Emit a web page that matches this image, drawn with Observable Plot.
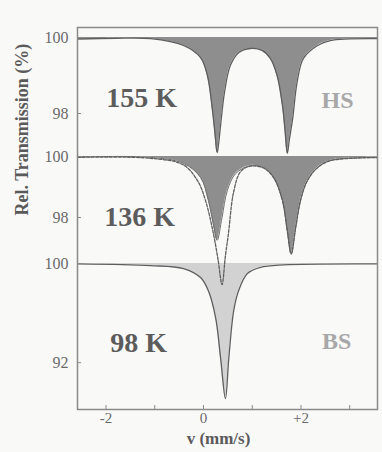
<!DOCTYPE html>
<html><head><meta charset="utf-8">
<script src="https://cdn.jsdelivr.net/npm/d3@7"></script>
<script src="https://cdn.jsdelivr.net/npm/@observablehq/plot@0.6"></script>
<style>
body{margin:0;background:#f9f9f8;}
#chart{width:382px;height:452px;}
</style>
</head><body><div id="chart"></div>
<script>
// Panels (stacked spectra, each with its own transmission scale)
const panelNames = ["155 K", "136 K", "98 K"];
const panelBase = [0, -3.13, -5.95];      // stacking offset of each panel's 100 % line
const panelScale = [1, 0.803, 0.326];     // relative vertical scale of each panel
const panelLabelV = [-1.27, -1.31, -1.33];
const panelLabelT = [98.42, 98.0, 93.6];

const stateNames = ["HS", "BS"];
const statePanel = [0, 2];
const stateV = [2.75, 2.73];
const stateT = [98.34, 93.7];

// 155 K spectrum (HS doublet)
const v155 = [-2.58, -1.8, -1.09, -0.41, -0.06, 0.08, 0.18, 0.23, 0.28, 0.31, 0.35, 0.43, 0.55, 0.72, 0.96, 1.2, 1.37, 1.51, 1.62, 1.67, 1.72, 1.76, 1.83, 1.92, 2.05, 2.34, 2.6, 3.57];
const t155 = [99.96, 99.98, 99.97, 99.79, 99.47, 99.0, 98.13, 97.55, 96.97, 97.2, 97.68, 98.55, 99.26, 99.6, 99.71, 99.66, 99.45, 99.0, 98.21, 97.6, 96.95, 97.3, 97.87, 98.82, 99.45, 99.79, 99.92, 99.97];

// 136 K: HS component (grey) and total spectrum
const vHS136 = [-2.58, -1.09, -0.41, -0.06, 0.1, 0.2, 0.28, 0.38, 0.49, 0.66, 0.96, 1.23, 1.44, 1.62, 1.72, 1.8, 1.89, 1.99, 2.13, 2.34, 2.6, 3.57];
const tHS136 = [99.98, 99.97, 99.77, 99.31, 98.56, 97.8, 97.25, 98.0, 98.89, 99.44, 99.7, 99.64, 99.31, 98.56, 97.57, 96.82, 97.67, 98.56, 99.21, 99.64, 99.87, 99.97];
const vTot136 = [-2.58, -1.09, -0.41, -0.12, 0.04, 0.2, 0.3, 0.38, 0.45, 0.51, 0.62, 0.76, 0.96, 1.23, 1.44, 1.62, 1.72, 1.8, 1.89, 1.99, 2.13, 2.34, 2.6, 3.57];
const tTot136 = [99.97, 99.94, 99.72, 99.2, 98.56, 97.5, 96.6, 95.8, 96.75, 97.45, 98.85, 99.5, 99.68, 99.62, 99.3, 98.55, 97.55, 96.8, 97.65, 98.55, 99.2, 99.63, 99.86, 99.96];

// 98 K spectrum (LS line)
const v98 = [-2.58, -1.09, -0.41, -0.06, 0.1, 0.25, 0.35, 0.45, 0.52, 0.62, 0.72, 0.9, 1.17, 1.64, 3.57];
const t98 = [99.98, 99.84, 99.6, 98.87, 97.8, 95.6, 92.4, 89.1, 92.4, 96.2, 97.8, 99.2, 99.7, 99.9, 99.98];

// Axis ticks
const yTickT = [100, 98, 100, 98, 100, 92];
const yTickPanel = [0, 0, 1, 1, 2, 2];
const xTicks = [-2, -1, 0, 1, 2, 3];
const xLabelTicks = [-2, 0, 2];
const xLabelText = ["-2", "0", "+2"];

// ---- build tables ----
const toY = (p, t) => panelBase[p] + panelScale[p] * (t - 100);
const rows = (vs, ts, p) => vs.map((v, i) => ({v, y: toY(p, ts[i]), base: panelBase[p]}));
const d155 = rows(v155, t155, 0);
const dHS136 = rows(vHS136, tHS136, 1);
const dTot136 = rows(vTot136, tTot136, 1);
const d98 = rows(v98, t98, 2);

const yTickPos = yTickT.map((t, i) => toY(yTickPanel[i], t));
const yTickLabel = new Map(yTickPos.map((p, i) => [p, String(yTickT[i])]));
const xTickLabel = new Map(xLabelTicks.map((x, i) => [x, xLabelText[i]]));

const panelLabels = panelNames.map((n, i) => ({n, v: panelLabelV[i], y: toY(i, panelLabelT[i])}));
const stateLabels = stateNames.map((n, i) => ({n, v: stateV[i], y: toY(statePanel[i], stateT[i])}));

const serif = "'Liberation Serif', 'DejaVu Serif', serif";
const curve = "catmull-rom";

const chart = Plot.plot({
  width: 382, height: 452,
  marginTop: 27, marginBottom: 43, marginLeft: 77, marginRight: 5,
  x: {domain: [-2.585, 3.57]},
  y: {domain: [-9.79, 0.263]},
  style: {fontFamily: serif, color: "#6a6a6a", background: "transparent", overflow: "visible"},
  marks: [
    Plot.areaY(d155, {x: "v", y1: "base", y2: "y", fill: "#8e8e8e", curve}),
    Plot.areaY(dHS136, {x: "v", y1: "base", y2: "y", fill: "#8e8e8e", curve}),
    Plot.areaY(d98, {x: "v", y1: "base", y2: "y", fill: "#d2d2d2", curve}),
    Plot.line(d155, {x: "v", y: "y", stroke: "#5e5e5e", strokeWidth: 1.3, curve}),
    Plot.line(dHS136, {x: "v", y: "y", stroke: "#6e6e6e", strokeWidth: 1, curve}),
    Plot.line(dTot136, {x: "v", y: "y", stroke: "#5e5e5e", strokeWidth: 1.3, strokeDasharray: "3,1.5", curve}),
    Plot.line(d98, {x: "v", y: "y", stroke: "#5e5e5e", strokeWidth: 1.3, curve}),
    Plot.frame({stroke: "#8a8a8a", strokeWidth: 1.5}),
    Plot.axisY({ticks: yTickPos, tickSize: -4, tickFormat: () => "", stroke: "#8a8a8a"}),
    Plot.axisY({ticks: yTickPos, tickSize: 0, tickPadding: 9, fontSize: 16, tickFormat: d => yTickLabel.get(d), fill: "#6a6a6a"}),
    Plot.axisX({ticks: xTicks, tickSize: -4, tickFormat: () => "", stroke: "#8a8a8a", label: null}),
    Plot.axisX({ticks: xLabelTicks, tickSize: 0, tickPadding: 3, fontSize: 15, tickFormat: d => xTickLabel.get(d), fill: "#6a6a6a", label: null}),
    Plot.text(["Rel. Transmission (%)"], {frameAnchor: "left", dx: -55, dy: -3, rotate: -90, fontSize: 18, fontWeight: "bold", fill: "#5a5a5a"}),
    Plot.text(["v (mm/s)"], {frameAnchor: "bottom", dy: 34, dx: -9, fontSize: 17, fontWeight: "bold", fill: "#5a5a5a"}),
    Plot.text(panelLabels, {x: "v", y: "y", text: "n", fontSize: 28, fontWeight: "bold", fill: "#5c5c5c"}),
    Plot.text(stateLabels, {x: "v", y: "y", text: "n", fontSize: 24, fontWeight: "bold", fill: "#a8a8a8"})
  ]
});
document.getElementById("chart").append(chart);
</script>
</body></html>
